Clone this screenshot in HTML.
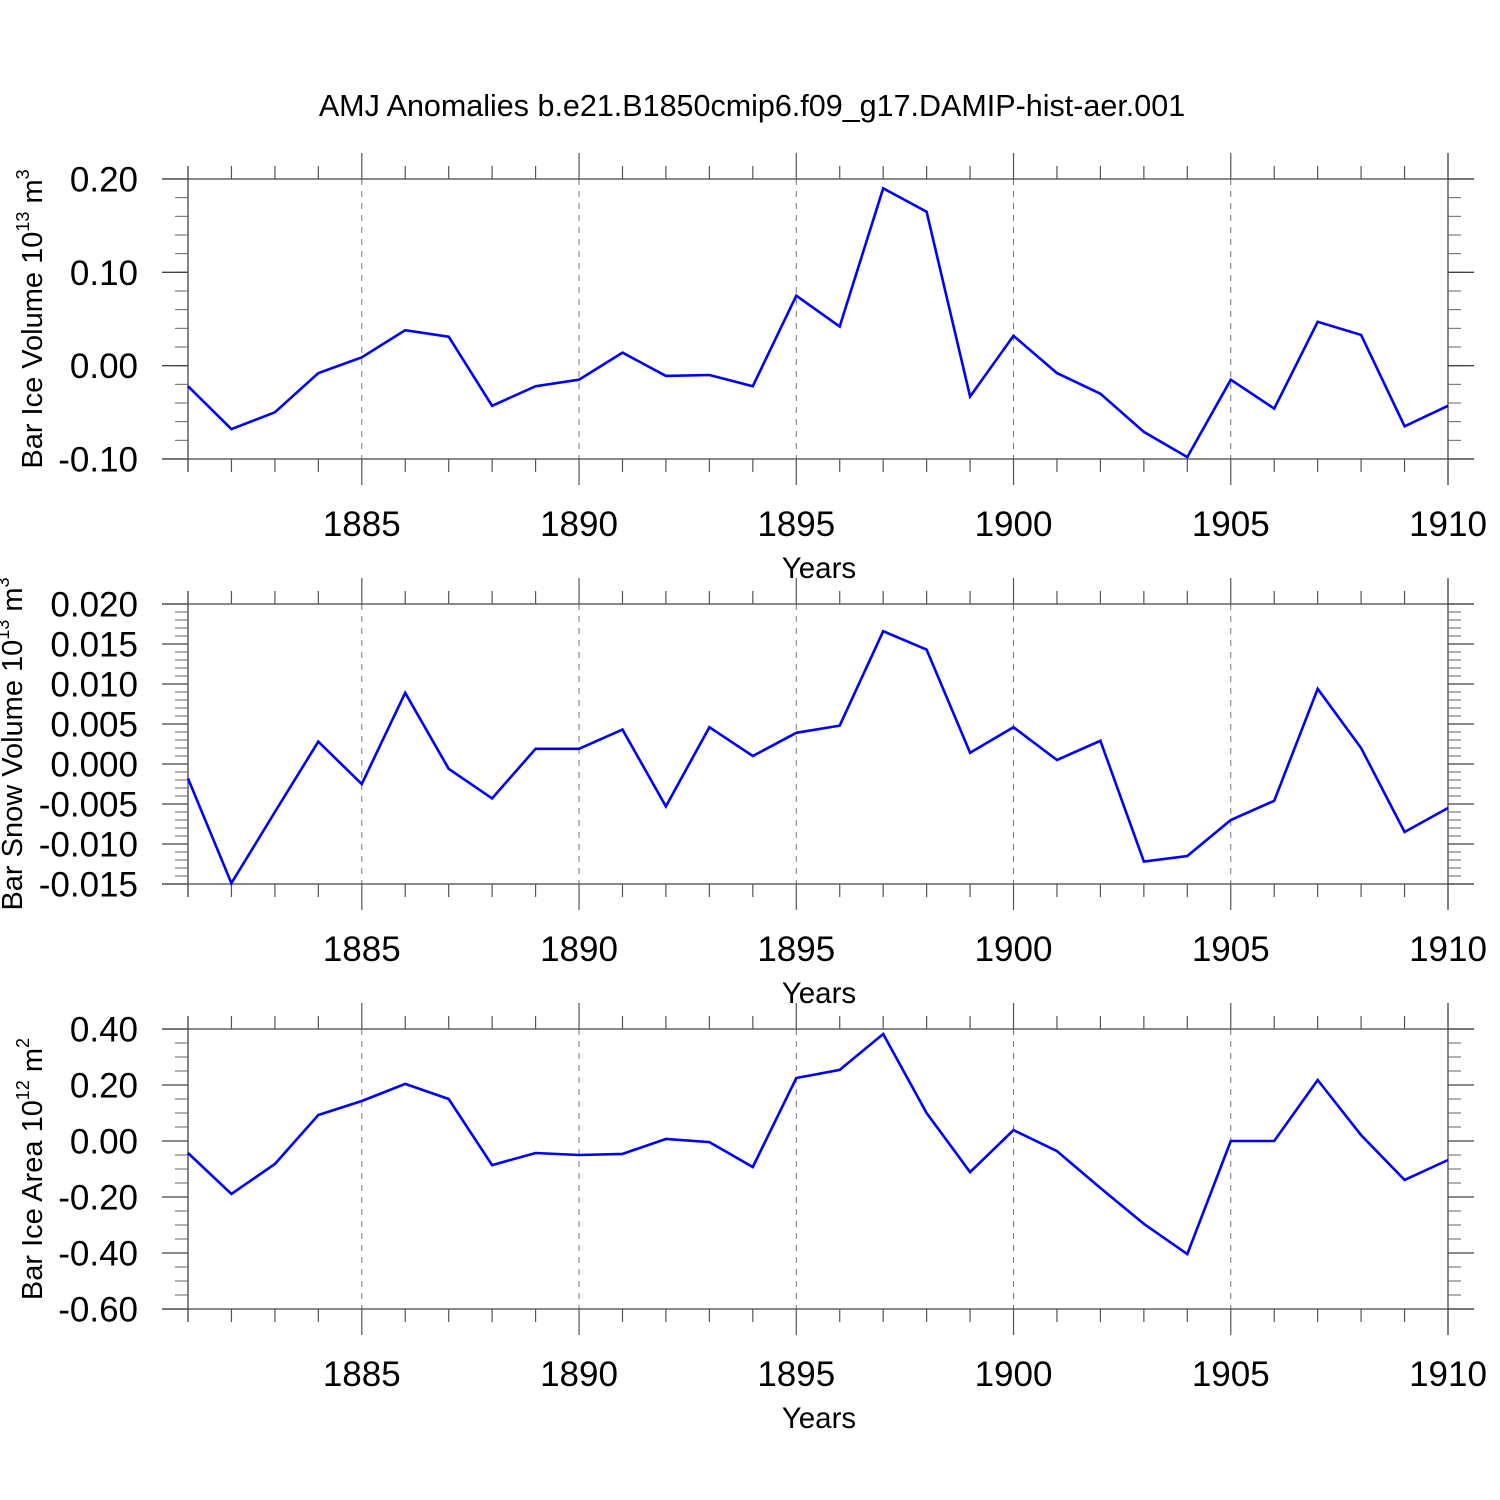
<!DOCTYPE html>
<html><head><meta charset="utf-8"><style>
html,body{margin:0;padding:0;background:#fff;}
svg{display:block;font-family:"Liberation Sans",Arial,sans-serif;}
</style></head><body>
<svg id="chart" width="1500" height="1500" viewBox="0 0 1500 1500" xmlns="http://www.w3.org/2000/svg">
<rect width="1500" height="1500" fill="#fff"/>
<text x="752" y="116" font-size="30.5" text-anchor="middle">AMJ Anomalies b.e21.B1850cmip6.f09_g17.DAMIP-hist-aer.001</text>
</svg>
<script>
const years = [1881,1882,1883,1884,1885,1886,1887,1888,1889,1890,1891,1892,1893,1894,1895,1896,1897,1898,1899,1900,1901,1902,1903,1904,1905,1906,1907,1908,1909,1910];
const iceVolume = [-0.022,-0.068,-0.050,-0.008,0.009,0.038,0.031,-0.043,-0.022,-0.015,0.014,-0.011,-0.010,-0.022,0.075,0.042,0.190,0.165,-0.033,0.032,-0.008,-0.030,-0.071,-0.098,-0.015,-0.046,0.047,0.033,-0.065,-0.043];
const snowVolume = [-0.0018,-0.0149,-0.0060,0.0028,-0.0025,0.0089,-0.0006,-0.0043,0.0019,0.0019,0.0043,-0.0053,0.0046,0.0010,0.0039,0.0048,0.0166,0.0143,0.0014,0.0046,0.0005,0.0029,-0.0122,-0.0115,-0.0070,-0.0046,0.0094,0.0020,-0.0085,-0.0055];
const iceArea = [-0.043,-0.189,-0.082,0.093,0.143,0.204,0.150,-0.086,-0.043,-0.050,-0.046,0.007,-0.004,-0.093,0.225,0.254,0.382,0.100,-0.111,0.039,-0.036,-0.168,-0.296,-0.404,0.0,0.0,0.218,0.021,-0.139,-0.068];
const xTickLabels = ["1885","1890","1895","1900","1905","1910"];
const iceVolTicks = ["-0.10","0.00","0.10","0.20"];
const snowTicks = ["-0.015","-0.010","-0.005","0.000","0.005","0.010","0.015","0.020"];
const areaTicks = ["-0.60","-0.40","-0.20","0.00","0.20","0.40"];

const NS="http://www.w3.org/2000/svg";
const svg=document.getElementById('chart');
function mk(tag,attrs,parent){const e=document.createElementNS(NS,tag);for(const k in attrs)e.setAttribute(k,attrs[k]);(parent||svg).appendChild(e);return e;}
const X0=188,X1=1448;
function xs(y){return X0+(y-1881)*(X1-X0)/29;}

function panel(name,top,ymin,ymax,ticks,minorStep,values,titleHTML,titleX){
  const bot=top+280;
  const g=mk('g',{});
  
  
  const ys=v=>bot-(v-ymin)/(ymax-ymin)*280;
  for(let yr=1885;yr<=1905;yr+=5){
    const l=mk('line',{x1:xs(yr),x2:xs(yr),y1:top,y2:bot,stroke:'#777','stroke-width':1,'stroke-dasharray':'6,6'},g);
    
    
  }
  mk('line',{x1:162,x2:1474,y1:top,y2:top,stroke:'#444','stroke-width':1.3},g);
  mk('line',{x1:162,x2:1474,y1:bot,y2:bot,stroke:'#444','stroke-width':1.3},g);
  mk('line',{x1:X0,x2:X0,y1:top-13,y2:bot+13,stroke:'#444','stroke-width':1.3},g);
  mk('line',{x1:X1,x2:X1,y1:top-26,y2:bot+26,stroke:'#444','stroke-width':1.3},g);
  for(let yr=1881;yr<=1910;yr++){
    const major=yr%5===0, len=major?26:13;
    mk('line',{x1:xs(yr),x2:xs(yr),y1:top-len,y2:top,stroke:'#555','stroke-width':1.2},g);
    mk('line',{x1:xs(yr),x2:xs(yr),y1:bot,y2:bot+len,stroke:'#555','stroke-width':1.2},g);
  }
  xTickLabels.forEach(s=>{
    const t=mk('text',{x:xs(+s),y:bot+77,'font-size':35,'text-anchor':'middle'},g);
    t.textContent=s;
    
    
  });
  const yt=mk('text',{x:819,y:bot+119,'font-size':29.5,'text-anchor':'middle'},g);
  yt.textContent='Years';
  
  
  const n=Math.round((ymax-ymin)/minorStep);
  for(let i=1;i<n;i++){
    const y=ys(ymin+i*minorStep);
    mk('line',{x1:175,x2:X0,y1:y,y2:y,stroke:'#666','stroke-width':1},g);
    mk('line',{x1:X1,x2:1461,y1:y,y2:y,stroke:'#666','stroke-width':1},g);
  }
  ticks.forEach(s=>{
    const y=ys(parseFloat(s));
    mk('line',{x1:162,x2:X0,y1:y,y2:y,stroke:'#444','stroke-width':1.3},g);
    mk('line',{x1:X1,x2:1474,y1:y,y2:y,stroke:'#444','stroke-width':1.3},g);
    const t=mk('text',{x:138,y:y+12.5,'font-size':35,'text-anchor':'end'},g);
    t.textContent=s;
    
    
  });
  const ytl=mk('text',{x:0,y:0,'font-size':29,'text-anchor':'middle',transform:`translate(${titleX},${top+140}) rotate(-90)`},g);
  ytl.innerHTML=titleHTML;
  
  
  const pts=values.map((v,i)=>xs(years[i]).toFixed(1)+','+ys(v).toFixed(1)).join(' ');
  const pl=mk('polyline',{points:pts,fill:'none',stroke:'#0000ff','stroke-width':2.6,'stroke-linejoin':'miter'},g);
  
  
}
panel('ice-volume',179,-0.1,0.2,iceVolTicks,0.02,iceVolume,'Bar Ice Volume 10<tspan font-size="18" dy="-13">13</tspan><tspan dy="13"> m</tspan><tspan font-size="18" dy="-13">3</tspan>',42);
panel('snow-volume',604,-0.015,0.02,snowTicks,0.001,snowVolume,'Bar Snow Volume 10<tspan font-size="18" dy="-13">13</tspan><tspan dy="13"> m</tspan><tspan font-size="18" dy="-13">3</tspan>',22);
panel('ice-area',1029,-0.6,0.4,areaTicks,0.05,iceArea,'Bar Ice Area 10<tspan font-size="18" dy="-13">12</tspan><tspan dy="13"> m</tspan><tspan font-size="18" dy="-13">2</tspan>',42);
</script>
</body></html>
